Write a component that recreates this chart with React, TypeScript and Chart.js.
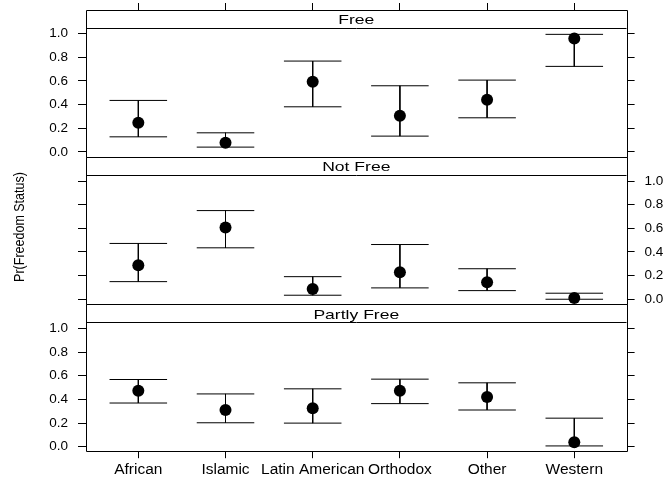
import React, { useEffect, useRef } from "react";
import { Chart, registerables } from "chart.js";

Chart.register(...registerables);

// ---------- data ----------
const categories = ["African", "Islamic", "Latin American", "Orthodox", "Other", "Western"];
const panelNames = ["Free", "Not Free", "Partly Free"];

const freeEst = [0.246, 0.076, 0.593, 0.305, 0.441, 0.958];
const freeLower = [0.127, 0.04, 0.381, 0.133, 0.288, 0.723];
const freeUpper = [0.435, 0.161, 0.768, 0.559, 0.607, 0.994];

const notFreeEst = [0.287, 0.607, 0.087, 0.228, 0.143, 0.011];
const notFreeLower = [0.149, 0.435, 0.034, 0.096, 0.073, 0.0];
const notFreeUpper = [0.472, 0.75, 0.191, 0.463, 0.258, 0.051];

const partlyEst = [0.472, 0.31, 0.324, 0.472, 0.42, 0.037];
const partlyLower = [0.369, 0.202, 0.199, 0.364, 0.31, 0.006];
const partlyUpper = [0.568, 0.446, 0.489, 0.571, 0.54, 0.241];

const yTickValues = [0, 0.2, 0.4, 0.6, 0.8, 1.0];
const yTitle = "Pr(Freedom Status)";

const estimates = [freeEst, notFreeEst, partlyEst];
const lowers = [freeLower, notFreeLower, partlyLower];
const uppers = [freeUpper, notFreeUpper, partlyUpper];

// ---------- layout ----------
const W = 670;
const H = 480;
const PLOT_LEFT = 86;
const PLOT_RIGHT = 626.6;
const PANEL_TOP0 = 10;
const PANEL_STEP = 147.4;
const Y_MIN = -0.047;
const Y_PLOT_MAX = 1.047;
const Y_MAX = 1.2;
const X_MIN = -0.6;
const X_MAX = 5.6;
const CAP = 0.33;
const FONT = '"Liberation Sans", Arial, Helvetica, sans-serif';
const TICK_FONT_SIZE = 13.5;
const XLAB_FONT_SIZE = 15.5;
const STRIP_FONT_SIZE = 13.5;
const STRIP_STRETCH = 1.3;
const TITLE_FONT_SIZE = 12.5;
const TITLE_STRETCH = 1.2;
const Y_AXIS_W = 40;
const X_AXIS_H = 28;

const r5 = (v: number) => Math.round(v - 0.5) + 0.5;

function zeroPadding(s: any) {
  s.paddingTop = 0;
  s.paddingBottom = 0;
  s.paddingLeft = 0;
  s.paddingRight = 0;
}

function buildChart(canvas: HTMLCanvasElement, idx: number) {
  const est = estimates[idx];
  const lo = lowers[idx];
  const hi = uppers[idx];

  const errData: { x: number; y: number | null }[] = [];
  est.forEach((_, i) => {
    errData.push({ x: i - CAP, y: hi[i] }, { x: i + CAP, y: hi[i] }, { x: i, y: null });
    errData.push({ x: i, y: hi[i] }, { x: i, y: lo[i] }, { x: i, y: null });
    errData.push({ x: i - CAP, y: lo[i] }, { x: i + CAP, y: lo[i] }, { x: i, y: null });
  });
  const ptData = est.map((v, i) => ({ x: i, y: v }));

  const top = PANEL_TOP0 + PANEL_STEP * idx;
  const xShown = idx !== 1;
  const xHeight = idx === 2 ? X_AXIS_H : 0;

  const panelPlugin = {
    id: "panelFrame" + idx,
    afterDraw(chart: any) {
      const { ctx, chartArea } = chart;
      const { left, right, top: t, bottom } = chartArea;
      const yLine = chart.scales.y.getPixelForValue(Y_PLOT_MAX);
      ctx.save();
      ctx.strokeStyle = "#000";
      ctx.lineWidth = 1;
      ctx.beginPath();
      ctx.rect(r5(left), r5(t), Math.round(right - left), Math.round(bottom - t));
      ctx.moveTo(r5(left), r5(yLine));
      ctx.lineTo(r5(right), r5(yLine));
      ctx.stroke();
      ctx.fillStyle = "#000";
      ctx.textAlign = "center";
      ctx.textBaseline = "middle";
      ctx.save();
      ctx.translate((left + right) / 2, (t + yLine) / 2 + 1);
      ctx.scale(STRIP_STRETCH, 1);
      ctx.font = `${STRIP_FONT_SIZE}px ${FONT}`;
      ctx.fillText(panelNames[idx], 0, 0);
      ctx.restore();
      if (idx === 1) {
        ctx.translate(20, 227);
        ctx.rotate(-Math.PI / 2);
        ctx.scale(1, TITLE_STRETCH);
        ctx.font = `${TITLE_FONT_SIZE}px ${FONT}`;
        ctx.fillText(yTitle, 0, 0);
      }
      ctx.restore();
    },
  };

  const yAxis = (position: "left" | "right", showLabels: boolean) => ({
    type: "linear",
    position,
    min: Y_MIN,
    max: Y_MAX,
    afterBuildTicks: (s: any) => {
      s.ticks = yTickValues.map((v) => ({ value: v }));
    },
    afterFit: (s: any) => {
      s.width = Y_AXIS_W;
      zeroPadding(s);
    },
    grid: { drawOnChartArea: false, drawTicks: true, tickLength: 8, color: "#000", lineWidth: 1 },
    border: { display: false },
    ticks: {
      display: showLabels,
      color: "#000",
      padding: 10,
      font: { family: FONT, size: TICK_FONT_SIZE },
      callback: (v: any) => Number(v).toFixed(1),
    },
  });

  return new Chart(canvas, {
    type: "scatter",
    data: {
      datasets: [
        {
          data: ptData,
          pointRadius: 6,
          pointBackgroundColor: "#000",
          pointBorderWidth: 0,
          showLine: false,
          order: 0,
        },
        {
          data: errData,
          showLine: true,
          spanGaps: false,
          borderColor: "#000",
          borderWidth: 1,
          pointRadius: 0,
          order: 1,
        },
      ],
    } as any,
    options: {
      animation: false,
      responsive: false,
      maintainAspectRatio: false,
      events: [],
      layout: {
        padding: {
          left: PLOT_LEFT - Y_AXIS_W,
          right: W - PLOT_RIGHT - Y_AXIS_W,
          top,
          bottom: H - (top + PANEL_STEP) - xHeight,
        },
      },
      plugins: { legend: { display: false }, tooltip: { enabled: false }, title: { display: false } },
      scales: {
        x: {
          type: "linear",
          position: idx === 0 ? "top" : "bottom",
          display: xShown,
          min: X_MIN,
          max: X_MAX,
          afterBuildTicks: (s: any) => {
            s.ticks = categories.map((_, i) => ({ value: i }));
          },
          afterFit: (s: any) => {
            s.height = xHeight;
            zeroPadding(s);
          },
          grid: { drawOnChartArea: false, drawTicks: true, tickLength: idx === 0 ? 7 : 6, color: "#000", lineWidth: 1 },
          border: { display: false },
          ticks: {
            display: idx === 2,
            autoSkip: false,
            maxRotation: 0,
            minRotation: 0,
            color: "#000",
            padding: 2,
            font: { family: FONT, size: XLAB_FONT_SIZE },
            callback: (v: any) => categories[Math.round(Number(v))] ?? "",
          },
        },
        y: yAxis("left", idx !== 1),
        yr: yAxis("right", idx === 1),
      } as any,
    },
    plugins: [panelPlugin],
  });
}

export default function App() {
  const c0 = useRef<HTMLCanvasElement>(null);
  const c1 = useRef<HTMLCanvasElement>(null);
  const c2 = useRef<HTMLCanvasElement>(null);

  useEffect(() => {
    const refs = [c0, c1, c2];
    const charts = refs.map((r, i) => buildChart(r.current as HTMLCanvasElement, i));
    return () => charts.forEach((c) => c.destroy());
  }, []);

  const cs: React.CSSProperties = { position: "absolute", left: 0, top: 0, width: W, height: H };
  return (
    <div style={{ position: "fixed", left: 0, top: 0, width: W, height: H, background: "#fff" }}>
      <canvas ref={c0} width={W} height={H} style={cs} />
      <canvas ref={c1} width={W} height={H} style={cs} />
      <canvas ref={c2} width={W} height={H} style={cs} />
    </div>
  );
}
